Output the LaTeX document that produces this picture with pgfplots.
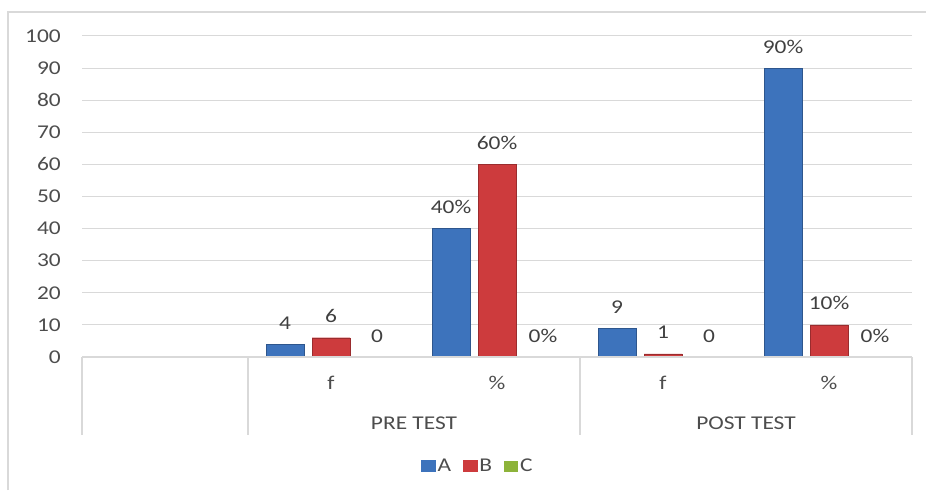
\documentclass[border=0pt]{standalone}
\usepackage{pgfplots}
\pgfplotsset{compat=1.18}
\usepackage{fontspec}
\setmainfont{Carlito}[FakeStretch=1.2]
\definecolor{serA}{HTML}{3D73BC}
\definecolor{serB}{HTML}{CD3B3D}
\definecolor{serC}{HTML}{8DB33A}
\definecolor{gridc}{HTML}{D9D9D9}
\definecolor{txt}{HTML}{4D4D4D}
\definecolor{lbl}{HTML}{404040}
\newcommand{\cf}{\fontsize{19.5}{23}\selectfont}
\begin{document}
\begin{tikzpicture}
\useasboundingbox (0,0) rectangle (926pt,490pt);
\draw[gridc, line width=2pt] (8pt,0) -- (8pt,478pt) -- (926pt,478pt);
\begin{axis}[
  at={(82pt,133pt)}, anchor=south west,
  scale only axis, width=830pt, height=321pt,
  xmin=-0.5, xmax=4.5, ymin=0, ymax=100,
  ytick={0,10,...,100},
  xtick={0,1,2,3,4},
  xticklabels={{},f,\%,f,\%},
  ymajorgrids, grid style={gridc, line width=1pt},
  axis line style={draw=none},
  tick style={draw=none},
  major tick length=0pt,
  /pgf/number format/assume math mode=true,
  yticklabel style={font=\cf, text=txt, anchor=east, inner sep=0pt, xshift=-21pt},
  xticklabel style={font=\cf, text=txt, anchor=base, inner sep=0pt, yshift=-32pt},
  ybar=8pt, bar width=38pt,
  point meta=explicit symbolic,
  nodes near coords,
  every node near coord/.append style={font=\cf, text=lbl, anchor=base, inner sep=0pt, yshift=15pt},
  clip=false,
  legend style={at={(0.477,-0.34)}, anchor=center, draw=none, fill=none,
    legend columns=3, font=\cf, text=txt,
    /tikz/every even column/.append style={column sep=10pt}},
  legend cell align=left,
]
\addplot[fill=serA, draw=serA!75!black,
  legend image code/.code={\fill[serA] (0pt,-5.5pt) rectangle (14pt,5.5pt);}]
  coordinates {(1,4) [4] (2,40) [40\%] (3,9) [9] (4,90) [90\%]};
\addplot[fill=serB, draw=serB!75!black,
  legend image code/.code={\fill[serB] (0pt,-5.5pt) rectangle (14pt,5.5pt);}]
  coordinates {(1,6) [6] (2,60) [60\%] (3,1) [1] (4,10) [10\%]};
\addplot[fill=serC, draw=none,
  legend image code/.code={\fill[serC] (0pt,-5.5pt) rectangle (14pt,5.5pt);}]
  coordinates {(1,0) [0] (2,0) [0\%] (3,0) [0] (4,0) [0\%]};
\legend{A,B,C}
\draw[gridc, line width=2pt] (axis cs:-0.5,0) -- (axis cs:4.5,0);
\draw[gridc, line width=2pt] (axis cs:-0.5,0) -- ([yshift=-78pt]axis cs:-0.5,0);
\draw[gridc, line width=2pt] (axis cs:0.5,0) -- ([yshift=-78pt]axis cs:0.5,0);
\draw[gridc, line width=2pt] (axis cs:2.5,0) -- ([yshift=-78pt]axis cs:2.5,0);
\draw[gridc, line width=2pt] (axis cs:4.5,0) -- ([yshift=-78pt]axis cs:4.5,0);
\node[font=\cf, text=txt, anchor=base, inner sep=0pt] at ([yshift=-72pt]axis cs:1.5,0) {PRE TEST};
\node[font=\cf, text=txt, anchor=base, inner sep=0pt] at ([yshift=-72pt]axis cs:3.5,0) {POST TEST};
\end{axis}
\end{tikzpicture}
\end{document}
